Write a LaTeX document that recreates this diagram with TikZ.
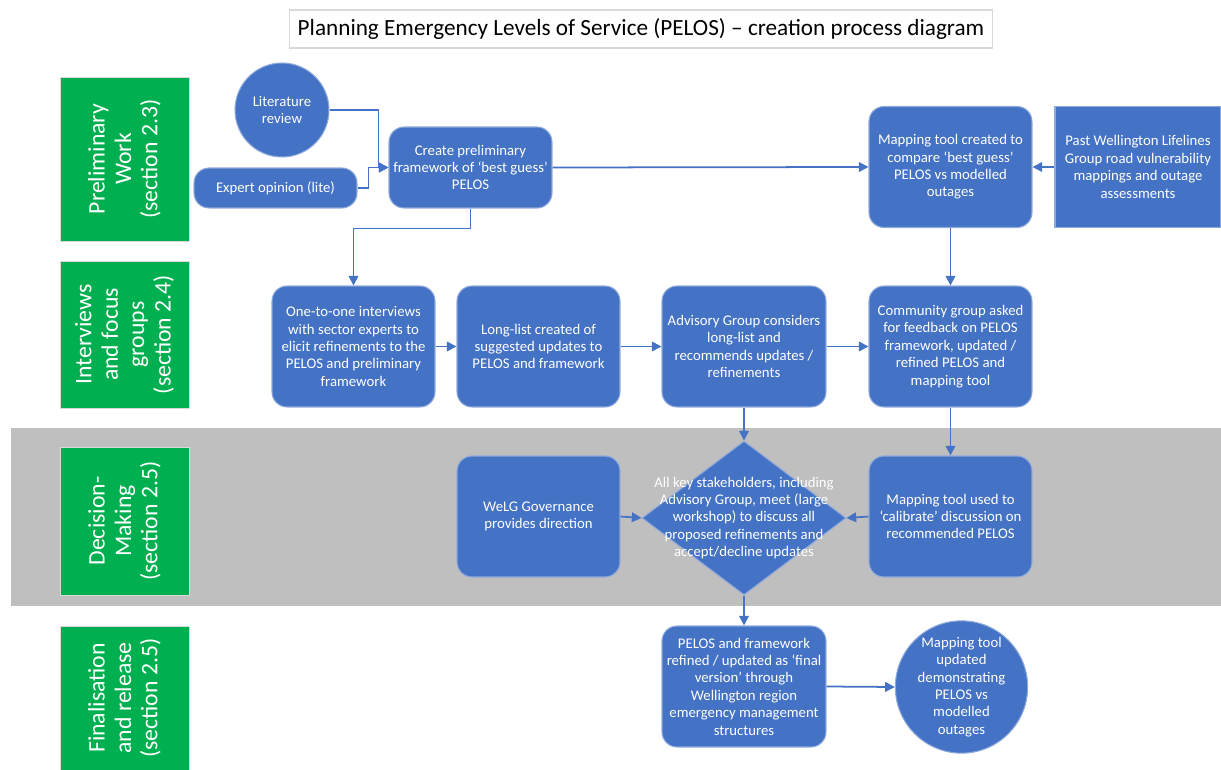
\documentclass[tikz,border=0pt]{standalone}
\usepackage{fontspec}
\setmainfont{Carlito}
\usepackage{xcolor}
\usetikzlibrary{shapes.geometric}
\usetikzlibrary{arrows.meta}
\usetikzlibrary{calc}
\definecolor{boxblue}{HTML}{4472C4}
\definecolor{boxedge}{HTML}{8FAADC}
\definecolor{lanegreen}{HTML}{00B050}
\definecolor{bandgrey}{HTML}{BFBFBF}
\tikzset{box/.style={draw=boxedge,line width=0.6pt,fill=boxblue,text=white,align=center,
   rounded corners=0.3cm,minimum width=3.26cm,minimum height=2.42cm,inner sep=2pt,
   font=\fontsize{8.4}{9.9}\selectfont},
 plain/.style={box,rounded corners=0pt},
 disc/.style={box,circle,rounded corners=0pt,inner sep=0pt},
 lane/.style={fill=lanegreen,draw=white!85!black,line width=0.5pt,text=white,align=center,
   rotate=90,minimum height=2.58cm,inner sep=0pt,
   font=\fontsize{13.5}{15}\selectfont},
 flow/.style={draw=boxblue,line width=1pt,-{Triangle[length=5.5pt,width=5.5pt]}},
 }

\begin{document}
\begin{tikzpicture}[x=0.02cm,y=-0.02cm]
        \useasboundingbox (0,0) rectangle (1221,770);
        \fill [bandgrey] (11,428) rectangle (1221,606);
        \node [draw=black!15,line width=0.6pt,fill=white,minimum width=14.08cm,minimum height=0.76cm,
            font=\fontsize{13.2}{15}\selectfont] (title) at (641,29)
            {Planning Emergency Levels of Service (PELOS) -- creation process diagram};
        \node [lane,minimum width=3.28cm] (prelim) at (124.5,159) {Preliminary\\Work\\(section 2.3)};
        \node [lane,minimum width=2.94cm] (interv) at (124.5,334.5) {Interviews\\and focus\\groups\\(section 2.4)};
        \node [lane,minimum width=2.96cm] (decide) at (124.5,521) {Decision-\\Making\\(section 2.5)};
        \node [lane,minimum width=2.88cm] (final) at (124.5,698) {Finalisation\\and release\\(section 2.5)};
        \node [disc,minimum size=1.88cm] (lit) at (282,110) {Literature\\review};
        \node [box,minimum height=0.8cm] (expert) at (275.5,188) {Expert opinion (lite)};
        \node [box,minimum height=1.62cm] (create) at (470.5,167.5) {Create preliminary\\framework of ‘best guess’\\PELOS};
        \node [box] (mapcreate) at (950.5,167) {Mapping tool created to\\compare ‘best guess’\\PELOS vs modelled\\outages};
        \node [plain,minimum width=3.32cm] (past) at (1138,167) {Past Wellington Lifelines\\Group road vulnerability\\mappings and outage\\assessments};
        \node [box] (interview) at (353.5,346.5) {One-to-one interviews\\with sector experts to\\elicit refinements to the\\PELOS and preliminary\\framework};
        \node [box] (longlist) at (538.5,346.5) {Long-list created of\\suggested updates to\\PELOS and framework};
        \node [box,minimum width=3.28cm] (advisory) at (744,346.5) {Advisory Group considers\\long-list and\\recommends updates /\\refinements};
        \node [box] (community) at (950.5,346.5) {Community group asked\\for feedback on PELOS\\framework, updated /\\refined PELOS and\\mapping tool};
        \node [box] (welg) at (538.5,516.5) {WeLG Governance\\provides direction};
        \node [diamond,fill=boxblue,draw=boxedge,line width=0.6pt,minimum width=4.08cm,minimum height=3.08cm,inner sep=0pt] (meet) at (744,518) {};
        \node [text=white,align=center,font=\fontsize{8.4}{9.9}\selectfont] (meettext) at (meet.center) {All key stakeholders, including\\Advisory Group, meet (large\\workshop) to discuss all\\proposed refinements and\\accept/decline updates};
        \node [box] (mapuse) at (950.5,516.5) {Mapping tool used to\\‘calibrate’ discussion on\\recommended PELOS};
        \node [box,minimum width=3.28cm] (release) at (744,686.5) {PELOS and framework\\refined / updated as ‘final\\version’ through\\Wellington region\\emergency management\\structures};
        \node [disc,minimum size=2.6cm] (mapdone) at (961.5,687) {Mapping tool\\updated\\demonstrating\\PELOS vs\\modelled\\outages};
        \draw [flow] (lit.east) -| ($(create.west)+(-10,0)$) -- (create.west);
        \draw [flow] (expert.east) -- ++(11,0) |- (create.west);
        \draw [flow] (create.east) -- (mapcreate.west);
        \draw [flow] (past.west) -- (mapcreate.east);
        \draw [flow] (create.south) -- ++(0,20) -| (interview.north);
        \draw [flow] (mapcreate.south) -- (community.north);
        \draw [flow] (interview.east) -- (longlist.west);
        \draw [flow] (longlist.east) -- (advisory.west);
        \draw [flow] (advisory.east) -- (community.west);
        \draw [flow] (advisory.south) -- (meet.north);
        \draw [flow] (community.south) -- (mapuse.north);
        \draw [flow] (welg.east) -- (meet.west);
        \draw [flow] (mapuse.west) -- (meet.east);
        \draw [flow] (meet.south) -- (release.north);
        \draw [flow] (release.east) -- (mapdone.west);
    \end{tikzpicture}
\end{document}
